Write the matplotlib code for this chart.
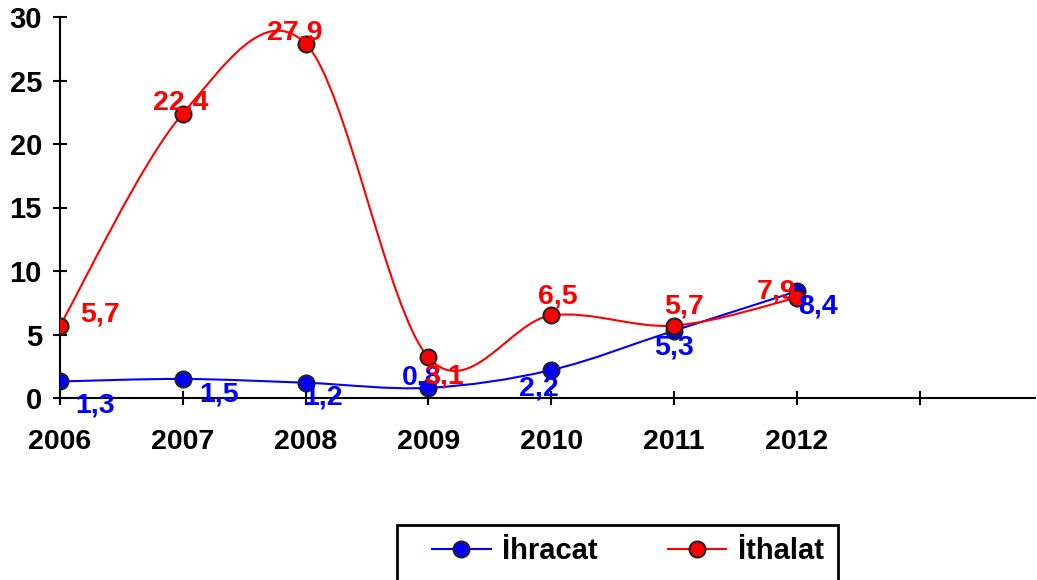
import matplotlib
matplotlib.use("Agg")
import matplotlib.pyplot as plt
from matplotlib.path import Path
from matplotlib.patches import PathPatch, Rectangle
from matplotlib.lines import Line2D

years = ["2006", "2007", "2008", "2009", "2010", "2011", "2012"]
ihracat = [1.3, 1.5, 1.2, 0.8, 2.2, 5.3, 8.4]
ithalat = [5.7, 22.4, 27.9, 3.2, 6.5, 5.7, 7.9]
ihracat_labels = ["1,3", "1,5", "1,2", "0,8", "2,2", "5,3", "8,4"]
ithalat_labels = ["5,7", "22,4", "27,9", "3,1", "6,5", "5,7", "7,9"]
yticks = [0, 5, 10, 15, 20, 25, 30]

# label offsets in pixels (style, not data)
ihr_off = [(35, -24), (36, -16), (17, -15), (-7, 10), (-12, -18), (0, -17), (21, -15)]
ith_off = [(40, 11), (-2, 11), (-11, 11), (16, -19), (7, 19), (10, 19), (-20, 6)]

plt.rcParams['font.family'] = ['Liberation Sans', 'DejaVu Sans']
plt.rcParams['font.weight'] = 'bold'

W, H = 1037, 580
fig = plt.figure(figsize=(W / 100, H / 100), dpi=100)
ax = fig.add_axes([60 / W, 1 - 398 / H, (1035 - 60) / W, (398 - 17) / H])

xs = list(range(len(years)))


def smooth_path(x, y):
    n = len(x)
    verts = [(x[0], y[0])]
    codes = [Path.MOVETO]
    for i in range(n - 1):
        x0, y0 = (x[i - 1], y[i - 1]) if i > 0 else (x[i], y[i])
        x3, y3 = (x[i + 2], y[i + 2]) if i + 2 < n else (x[i + 1], y[i + 1])
        c1 = (x[i] + (x[i + 1] - x0) / 6, y[i] + (y[i + 1] - y0) / 6)
        c2 = (x[i + 1] - (x3 - x[i]) / 6, y[i + 1] - (y3 - y[i]) / 6)
        verts += [c1, c2, (x[i + 1], y[i + 1])]
        codes += [Path.CURVE4] * 3
    return Path(verts, codes)


for vals, col in [(ihracat, '#0000FF'), (ithalat, '#FF0000')]:
    ax.add_patch(PathPatch(smooth_path(xs, vals), facecolor='none',
                           edgecolor=col, lw=1.5, zorder=2))
    ax.plot(xs, vals, linestyle='none', marker='o', markersize=11.5,
            markerfacecolor=col, markeredgecolor='#222222', markeredgewidth=1.5,
            zorder=3)

LBL = 20.5
for i, v in enumerate(ihracat):
    ax.annotate(ihracat_labels[i], (xs[i], v), xytext=ihr_off[i],
                textcoords='offset pixels', ha='center', va='center',
                color='#0000FF', fontsize=LBL, fontweight='bold', zorder=4)
for i, v in enumerate(ithalat):
    ax.annotate(ithalat_labels[i], (xs[i], v), xytext=ith_off[i],
                textcoords='offset pixels', ha='center', va='center',
                color='#FF0000', fontsize=LBL, fontweight='bold', zorder=4)

ax.set_xlim(0, 7.94)
ax.set_ylim(0, 30)
ax.set_xticks(list(range(len(years) + 1)))
ax.set_xticklabels(years + [""])
ax.set_yticks(yticks)
ax.set_yticklabels([str(t) for t in yticks])
for s in ['top', 'right']:
    ax.spines[s].set_visible(False)
for s in ['left', 'bottom']:
    ax.spines[s].set_linewidth(1.5)
    ax.spines[s].set_color('black')
ax.tick_params(axis='both', direction='inout', length=10, width=1.5,
               colors='black')
ax.tick_params(axis='y', pad=8, labelsize=21)
ax.tick_params(axis='x', pad=17, labelsize=20.5)
for lab in ax.get_xticklabels() + ax.get_yticklabels():
    lab.set_fontweight('bold')
ax.set_facecolor('none')

# legend frame extending below figure edge
fig.patches.append(Rectangle((397 / W, -0.05), (838 - 397) / W, 0.05 + (580 - 525) / H,
                             transform=fig.transFigure, facecolor='white',
                             edgecolor='black', lw=2, zorder=0))
handles = [Line2D([], [], color='#0000FF', lw=1.5, marker='o', markersize=11.5,
                  markerfacecolor='#0000FF', markeredgecolor='#222222', markeredgewidth=1.5),
           Line2D([], [], color='#FF0000', lw=1.5, marker='o', markersize=11.5,
                  markerfacecolor='#FF0000', markeredgecolor='#222222', markeredgewidth=1.5)]
fig.legend(handles, ['İhracat', 'İthalat'], loc='center', ncol=2,
           bbox_to_anchor=(628 / W, 1 - 551 / H), frameon=False,
           prop={'size': 21, 'weight': 'bold'}, handlelength=2.0,
           columnspacing=2.4, handletextpad=0.4)

fig.savefig('out.png', dpi=100)
